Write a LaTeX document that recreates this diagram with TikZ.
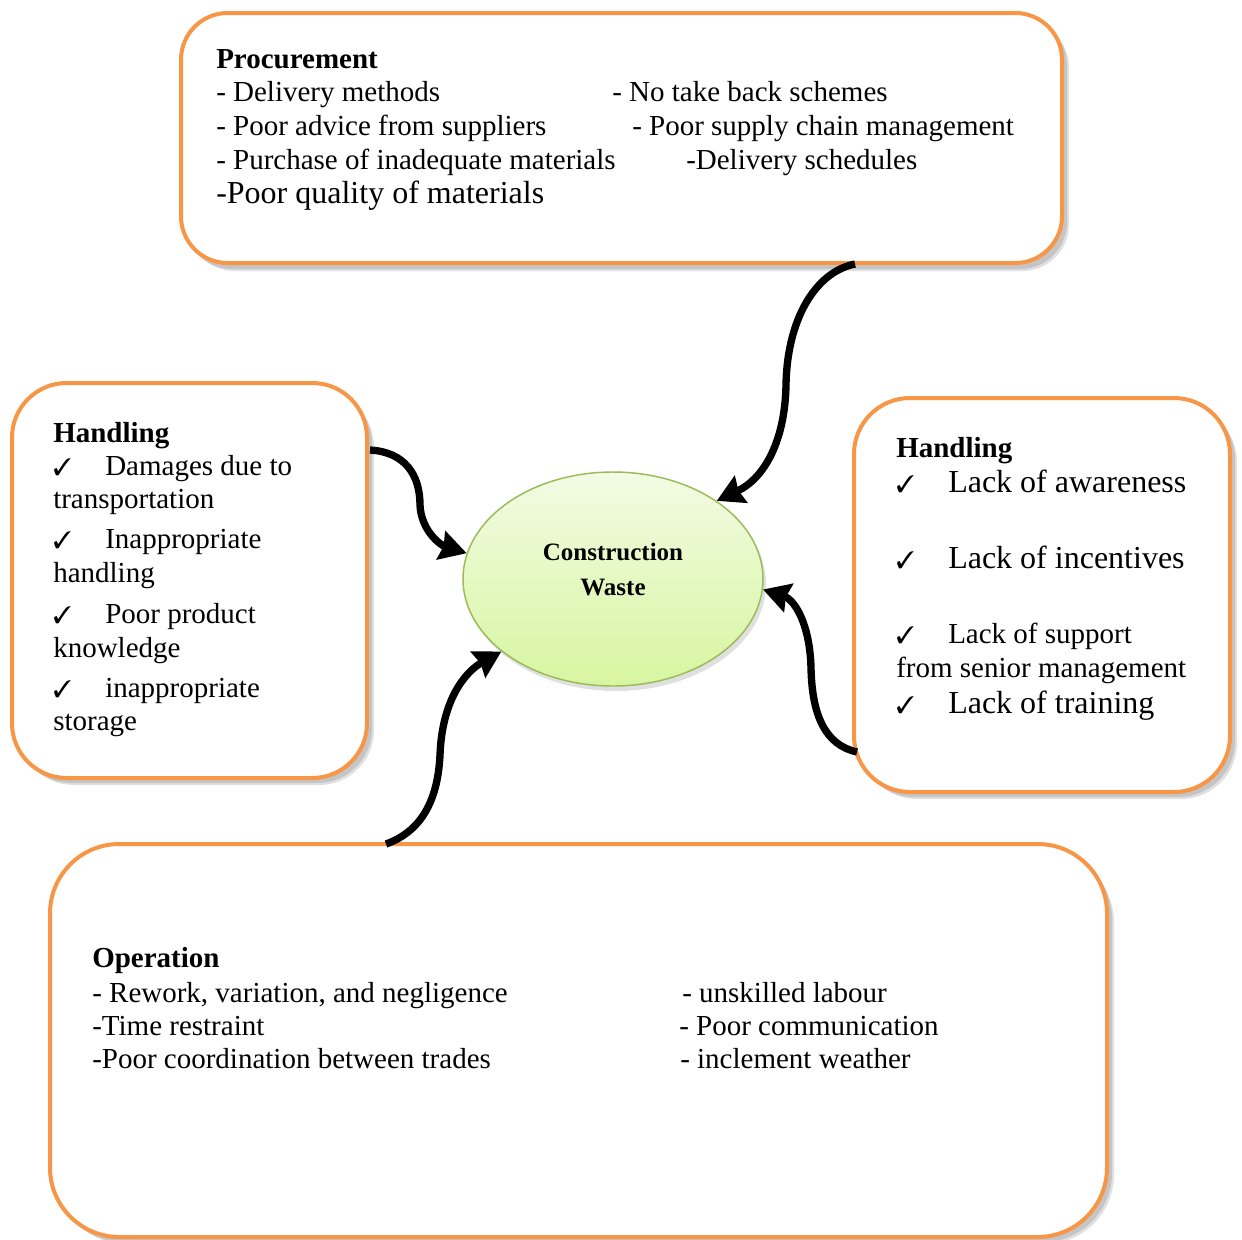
\documentclass[tikz,border=0pt]{standalone}
\usepackage{amsmath}
\usepackage{amssymb}
\usepackage{pifont}
\usepackage{fontspec}
\setmainfont{Liberation Serif}
\usepackage{tikz}
\usetikzlibrary{arrows.meta,shapes.geometric}

\definecolor{boxorange}{RGB}{247,150,70}
\definecolor{ellborder}{RGB}{155,187,89}
\definecolor{elltop}{RGB}{242,251,228}
\definecolor{ellbot}{RGB}{215,246,160}

\begin{document}
\begin{tikzpicture}[x=0.75pt,y=0.75pt,yscale=-1,xscale=1,
  catbox/.style={draw=boxorange,line width=3pt,fill=white},
  boxshadow/.style={fill=black,opacity=0.12},
  txt/.style={anchor=base west,inner sep=0pt,font=\fontsize{21.75}{26}\selectfont},
  bigtxt/.style={anchor=base west,inner sep=0pt,font=\fontsize{24}{28}\selectfont},
  head/.style={anchor=base west,inner sep=0pt,font=\fontsize{21.75}{26}\selectfont\bfseries},
  tick/.style={anchor=base west,inner sep=0pt,font=\fontsize{18}{20}\selectfont},
  wastetxt/.style={anchor=base,inner sep=0pt,font=\fontsize{18.75}{22}\selectfont\bfseries},
  flow/.style={line width=5.5pt,-{Stealth[length=20pt,width=22pt,inset=2pt]}}]
%set diagram size to the reference
\useasboundingbox (0,0) rectangle (1242,1239);

%Shape: Rounded Rectangle, Procurement
\fill [boxshadow,rounded corners=35pt] (185,18) rectangle (1067,269) ;
\fill [boxshadow,rounded corners=35pt] (188,21) rectangle (1069,271) ;
\draw [catbox,rounded corners=35pt] (181,13) rectangle (1062,263) ;
%Shape: Rounded Rectangle, Handling left
\fill [boxshadow,rounded corners=41pt] (16,389) rectangle (372,783) ;
\fill [boxshadow,rounded corners=41pt] (19,392) rectangle (374,785) ;
\draw [catbox,rounded corners=41pt] (12,383) rectangle (367,778) ;
%Shape: Rounded Rectangle, Handling right
\fill [boxshadow,rounded corners=42pt] (858,403) rectangle (1235,797) ;
\fill [boxshadow,rounded corners=42pt] (861,406) rectangle (1237,799) ;
\draw [catbox,rounded corners=42pt] (854,398) rectangle (1230,792) ;
%Shape: Rounded Rectangle, Operation
\fill [boxshadow,rounded corners=52pt] (54,850) rectangle (1112,1242) ;
\fill [boxshadow,rounded corners=52pt] (57,853) rectangle (1114,1244) ;
\draw [catbox,rounded corners=52pt] (50,844) rectangle (1107,1237) ;

%Shape: Ellipse
\fill [boxshadow] (616,584) ellipse [x radius=150,y radius=107] ;
\node (waste) [ellipse,draw=ellborder,line width=1.1pt,top color=elltop,bottom color=ellbot,minimum width=225pt,minimum height=160.5pt,inner sep=0pt] at (613,579) {};
\node (waste1) [wastetxt] at (613,560) {Construction};
\node (waste2) [wastetxt] at (613,595) {Waste};

%Curve Lines, connectors
\coordinate (pt) at (855,264);
\coordinate (lt) at (370,450);
\coordinate (rt) at (857,752);
\coordinate (bt) at (386,844);
\draw [flow] (pt) .. controls (815,272) and (787,320) .. (786,385) .. controls (785,440) and (765,478) .. (waste.37) ;
\draw [flow] (lt) .. controls (405,452) and (420,475) .. (420,505) .. controls (421,530) and (440,545) .. (waste.170) ;
\draw [flow] (rt) .. controls (825,745) and (812,715) .. (811,668) .. controls (810,625) and (795,600) .. (waste.-4) ;
\draw [flow] (bt) .. controls (425,830) and (438,795) .. (440,755) .. controls (442,700) and (465,672) .. (waste.213) ;

% Text Node, Procurement
\node (p0) [head] at (216,68) {Procurement};
\node (p1) [txt] at (216,101) {- Delivery methods};
\node (p2) [txt] at (612,101) {- No take back schemes};
\node (p3) [txt] at (216,135) {- Poor advice from suppliers};
\node (p4) [txt] at (632,135) {- Poor supply chain management};
\node (p5) [txt] at (216,169) {- Purchase of inadequate materials};
\node (p6) [txt] at (686,169) {-Delivery schedules};
\node (p7) [bigtxt] at (216,203) {-Poor quality of materials};

% Text Node, Handling left
\node (h0) [head] at (53,442) {Handling};
\node (h1c) [tick] at (53,475) {\ding{51}};
\node (h1) [txt] at (105,475) {Damages due to};
\node (h1b) [txt] at (53,508) {transportation};
\node (h2c) [tick] at (53,548) {\ding{51}};
\node (h2) [txt] at (105,548) {Inappropriate};
\node (h2b) [txt] at (53,582) {handling};
\node (h3c) [tick] at (53,623) {\ding{51}};
\node (h3) [txt] at (105,623) {Poor product};
\node (h3b) [txt] at (53,657) {knowledge};
\node (h4c) [tick] at (53,697) {\ding{51}};
\node (h4) [txt] at (105,697) {inappropriate};
\node (h4b) [txt] at (53,730) {storage};

% Text Node, Handling right
\node (r0) [head] at (896,457) {Handling};
\node (r1c) [tick] at (896,492) {\ding{51}};
\node (r1) [bigtxt] at (948,492) {Lack of awareness};
\node (r2c) [tick] at (896,568) {\ding{51}};
\node (r2) [bigtxt] at (948,568) {Lack of incentives};
\node (r3c) [tick] at (896,643) {\ding{51}};
\node (r3) [txt] at (948,643) {Lack of support};
\node (r3b) [txt] at (896,677) {from senior management};
\node (r4c) [tick] at (896,713) {\ding{51}};
\node (r4) [bigtxt] at (948,713) {Lack of training};

% Text Node, Operation
\node (o0) [head] at (92,967) {Operation};
\node (o1) [txt] at (92,1002) {- Rework, variation, and negligence};
\node (o2) [txt] at (682,1002) {- unskilled labour};
\node (o3) [txt] at (92,1035) {-Time restraint};
\node (o4) [txt] at (679,1035) {- Poor communication};
\node (o5) [txt] at (92,1068) {-Poor coordination between trades};
\node (o6) [txt] at (680,1068) {- inclement weather};

\end{tikzpicture}
\end{document}
